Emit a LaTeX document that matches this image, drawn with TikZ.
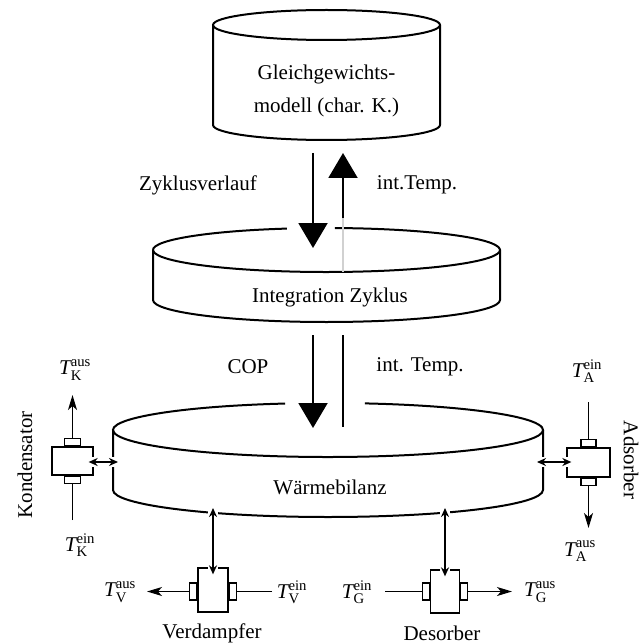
\documentclass[tikz,border=0pt]{standalone}
\usepackage{fontspec}
\usepackage{amsmath}
\setmainfont{Liberation Serif}
\usetikzlibrary{arrows.meta}

% temperature label: T with superscript and subscript
\newcommand{\Tlab}[2]{$\text{\itshape T}^{\text{#1}}_{\text{#2}}$}

\begin{document}
\begin{tikzpicture}[
  x=1pt, y=1pt,
  every node/.style={font=\fontsize{21}{25}\selectfont, inner sep=0pt},
  cyl/.style={line width=2pt},
  bigarrow/.style={line width=2pt, -{Triangle[width=29pt,length=25pt]}},
  plainbar/.style={line width=2pt},
  flow/.style={line width=1.3pt, -{Stealth[length=15pt,width=9pt,inset=4pt]}},
  flowline/.style={line width=1.3pt},
  heat/.style={line width=2pt,
    {Stealth[length=9pt,width=8pt]}-{Stealth[length=9pt,width=8pt]},
    preaction={draw=white, line width=10pt, -}},
  hx/.style={draw, line width=1.3pt, fill=white},
  nub/.style={draw, line width=1.3pt, fill=white},
]
\useasboundingbox (0,0) rectangle (640,-644);

% ---------- Gleichgewichtsmodell (top cylinder) ----------
\draw[cyl] (326.5,-25) ellipse [x radius=113.5, y radius=15];
\draw[cyl] (213,-25) -- (213,-125)
  arc[start angle=180, end angle=360, x radius=113.5, y radius=15] -- (440,-25);
\node[align=center, font=\fontsize{21}{33}\selectfont] (gg) at (326.5,-91)
  {Gleichgewichts-\\modell (char. K.)};

% ---------- Integration Zyklus (middle cylinder) ----------
\draw[cyl] ([shift={(326.5,-250)}]103.2:173.5 and 22)
  arc[start angle=103.2, end angle=447.2, x radius=173.5, y radius=22];
\draw[cyl] (153,-250) -- (153,-300)
  arc[start angle=180, end angle=360, x radius=173.5, y radius=22] -- (500,-250);
\node (iz) at (330,-297) {Integration Zyklus};

% ---------- Waermebilanz (large cylinder) ----------
\draw[cyl] ([shift={(328,-430)}]101.5:215 and 27)
  arc[start angle=101.5, end angle=440.1, x radius=215, y radius=27];
\draw[cyl] (113,-430) -- (113,-490)
  arc[start angle=180, end angle=360, x radius=215, y radius=27] -- (543,-430);
\node (wb) at (330,-487) {Wärmebilanz};

% ---------- exchange between model levels ----------
\coordinate (zvA) at (313,-153);
\coordinate (zvB) at (313,-248);
\coordinate (itA) at (343,-218);
\coordinate (itB) at (343,-153);
\coordinate (itC) at (343,-272);
\coordinate (copA) at (313,-335);
\coordinate (copB) at (313,-428);
\coordinate (tA) at (343,-335);
\coordinate (tB) at (343,-427);

\draw[line width=2pt, black!18] (itA) -- (itC);
\draw[bigarrow] (zvA) -- (zvB);
\draw[bigarrow] (itA) -- (itB);
\draw[bigarrow] (copA) -- (copB);
\draw[plainbar] (tA) -- (tB);

\node (lzv) at (198,-185) {Zyklusverlauf};
\node (lit) at (417,-185) {int.Temp.};
\node (lcop) at (248,-367) {COP};
\node (lit2) at (420,-367) {int. Temp.};

% ---------- Kondensator ----------
\node[hx, minimum width=41pt, minimum height=28pt] (kond) at (72.5,-461) {};
\node[nub, minimum width=16pt, minimum height=7pt, anchor=south] (kondT) at (kond.north) {};
\node[nub, minimum width=16pt, minimum height=7pt, anchor=north] (kondB) at (kond.south) {};
\coordinate (kondOut) at (72.5,-395);
\coordinate (kondIn) at (72.5,-520);
\draw[flow] (kondT.north) -- (kondOut);
\draw[flowline] (kondIn) -- (kondB.south);
\node (TKa) at (75,-370) {\Tlab{aus}{K}};
\node (TKe) at (80,-545) {\Tlab{ein}{K}};
\node[rotate=90] (lkond) at (25,-465) {Kondensator};

% ---------- Adsorber ----------
\node[hx, minimum width=43pt, minimum height=29pt] (ads) at (588.5,-462.5) {};
\node[nub, minimum width=15pt, minimum height=7pt, anchor=south] (adsT) at (ads.north) {};
\node[nub, minimum width=15pt, minimum height=7pt, anchor=north] (adsB) at (ads.south) {};
\coordinate (adsIn) at (588.5,-402);
\coordinate (adsOut) at (588.5,-528);
\draw[flowline] (adsIn) -- (adsT.north);
\draw[flow] (adsB.south) -- (adsOut);
\node (TAe) at (587,-371) {\Tlab{ein}{A}};
\node (TAa) at (580,-551) {\Tlab{aus}{A}};
\node[rotate=-90] (lads) at (631,-460) {Adsorber};

% ---------- Verdampfer ----------
\node[hx, minimum width=30pt, minimum height=44pt] (verd) at (213,-590) {};
\node[nub, minimum width=7pt, minimum height=17pt, anchor=east] (verdL) at ([yshift=-1.5pt]verd.west) {};
\node[nub, minimum width=7pt, minimum height=17pt, anchor=west] (verdR) at ([yshift=-1.5pt]verd.east) {};
\coordinate (verdOut) at (147,-591.5);
\coordinate (verdIn) at (272,-591.5);
\draw[flow] (verdL.west) -- (verdOut);
\draw[flowline] (verdIn) -- (verdR.east);
\node (TVa) at (120,-592) {\Tlab{aus}{V}};
\node (TVe) at (292,-592) {\Tlab{ein}{V}};
\node (lverd) at (212,-633) {Verdampfer};

% ---------- Desorber ----------
\node[hx, minimum width=29pt, minimum height=43pt] (des) at (445,-591.5) {};
\node[nub, minimum width=7pt, minimum height=17pt, anchor=east] (desL) at (des.west) {};
\node[nub, minimum width=7pt, minimum height=17pt, anchor=west] (desR) at (des.east) {};
\coordinate (desIn) at (385,-591.5);
\coordinate (desOut) at (512,-591.5);
\draw[flowline] (desIn) -- (desL.west);
\draw[flow] (desR.east) -- (desOut);
\node (TGe) at (357,-592) {\Tlab{ein}{G}};
\node (TGa) at (540,-592) {\Tlab{aus}{G}};
\node (ldes) at (442,-633) {Desorber};

% ---------- heat exchange with the Waermebilanz ----------
\coordinate (hK) at (118,-462);
\coordinate (hA) at (537,-462);
\coordinate (hV) at (213,-508);
\coordinate (hG) at (445,-508);
\draw[heat] ([xshift=-5pt]kond.east |- hK) -- (hK);
\draw[heat] (hA) -- ([xshift=5pt]ads.west |- hA);
\draw[heat] (hV) -- ([yshift=-7pt]verd.north);
\draw[heat] (hG) -- ([yshift=-7pt]des.north);
\end{tikzpicture}
\end{document}
